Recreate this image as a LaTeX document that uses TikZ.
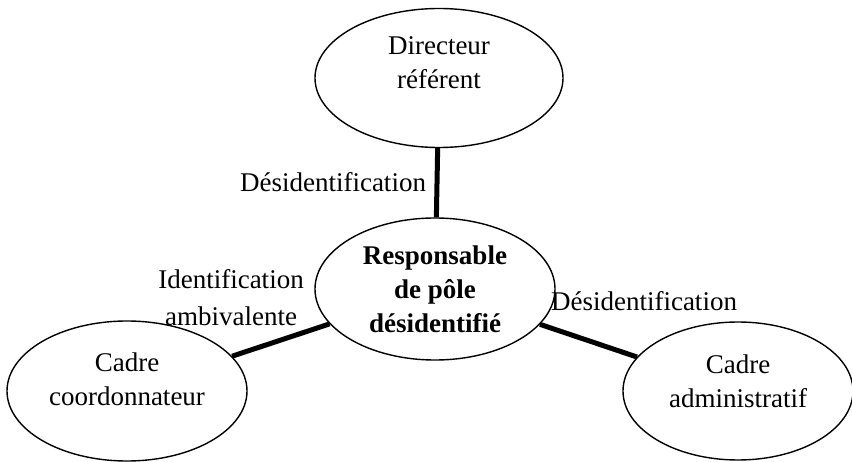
\documentclass[tikz,border=0pt]{standalone}
\usepackage{fontspec}
\setmainfont{Liberation Serif}
\usetikzlibrary{shapes.geometric}

\begin{document}
\begin{tikzpicture}[x=1pt, y=-1pt,
        pole/.style={draw, ellipse, line width=1.4pt, inner sep=0pt, align=center,
            font=\fontsize{27}{34}\selectfont},
        lien/.style={line width=5pt},
        etiquette/.style={align=center, font=\fontsize{27}{37}\selectfont}]
        \useasboundingbox (0,0) rectangle (852,462);

        % Pôles (le texte des pôles extérieurs est remonté par un filet invisible)
        \node[pole, minimum width=248pt, minimum height=139pt] (directeur) at (439,78) {Directeur\\référent\rule[-30pt]{0pt}{0pt}};
        \node[pole, minimum width=240pt, minimum height=142pt] (responsable) at (435,289) {\textbf{Responsable}\\\textbf{de pôle}\\\textbf{désidentifié}};
        \node[pole, minimum width=240pt, minimum height=140pt] (coordonnateur) at (127,391) {Cadre\\coordonnateur\rule[-24pt]{0pt}{0pt}};
        \node[pole, minimum width=230pt, minimum height=138pt] (administratif) at (738,391) {Cadre\\administratif\rule[-20pt]{0pt}{0pt}};

        % Liens
        \draw[lien] (directeur) -- (responsable);
        \draw[lien] (responsable) -- (coordonnateur);
        \draw[lien] (responsable) -- (administratif);

        % Etiquettes
        \node[etiquette] (lienHaut) at (333,182) {Désidentification};
        \node[etiquette] (lienGauche) at (231,298) {Identification\\ambivalente};
        \node[etiquette] (lienDroite) at (644,301) {Désidentification};
    \end{tikzpicture}
\end{document}
